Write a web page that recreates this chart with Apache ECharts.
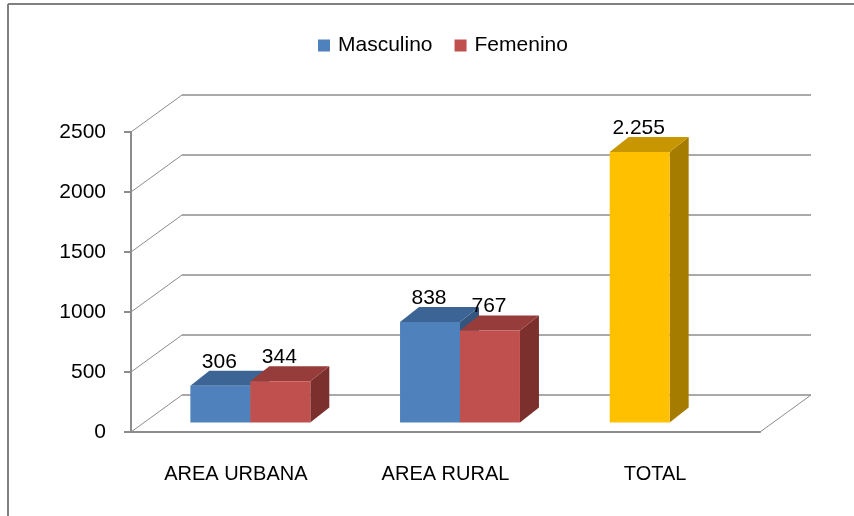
<!DOCTYPE html>
<html>
<head>
<meta charset="utf-8">
<script src="https://cdn.jsdelivr.net/npm/echarts@6/dist/echarts.min.js"></script>
<style>
  html, body { margin: 0; padding: 0; background: #fff; }
  #chart { width: 854px; height: 516px; }
</style>
</head>
<body>
<div id="chart"></div>
<script>
// datos del grafico
const categories = ['AREA URBANA', 'AREA RURAL', 'TOTAL'];
const masculino = [306, 838, 2255];
const femenino = [344, 767, null];
const yTicks = [0, 500, 1000, 1500, 2000, 2500];

const FONT = '"Liberation Sans", Arial, sans-serif';
const wallDepth = { x: 51, y: -37 };  // profundidad de pared/piso
const frontOff = { x: 14.5, y: -9.5 }; // plano frontal de las barras
const barDepth = { x: 19, y: -15 };
const barRatio = 0.286;
const lineColor = '#8c8c8c';

const blue = { front: '#4F81BD', top: '#3C6595', side: '#33557E' };
const red = { front: '#C0504D', top: '#963C3A', side: '#7B302E' };
const yellow = { front: '#FFC000', top: '#C89600', side: '#A67C00' };

const fmt = (v) => String(v).replace(/\B(?=(\d{3})+(?!\d))/g, '.');

// barra 3d: cara frontal, superior y lateral
const barRender = (slot, colorOf) => (params, api) => {
  const idx = api.value(0);
  const val = api.value(1);
  const band = api.size([1, 0])[0];
  const w = band * barRatio;
  const base = api.coord([idx, 0]);
  const top = api.coord([idx, val]);
  const x0 = base[0] + frontOff.x + (slot === 0 ? -w : 0);
  const x1 = x0 + w;
  const yb = base[1] + frontOff.y;
  const yt = top[1] + frontOff.y;
  const c = colorOf(idx);
  const bx = barDepth.x, by = barDepth.y;
  return {
    type: 'group',
    children: [
      {
        type: 'polygon',
        shape: { points: [[x1, yt], [x1 + bx, yt + by], [x1 + bx, yb + by], [x1, yb]] },
        style: { fill: c.side }
      },
      {
        type: 'polygon',
        shape: { points: [[x0, yt], [x1, yt], [x1 + bx, yt + by], [x0 + bx, yt + by]] },
        style: { fill: c.top }
      },
      {
        type: 'rect',
        shape: { x: x0, y: yt, width: w, height: yb - yt },
        style: { fill: c.front }
      },
      {
        type: 'text',
        z2: 10,
        style: {
          text: fmt(val),
          x: (x0 + x1) / 2 - 1,
          y: yt + by - 9,
          align: 'center',
          verticalAlign: 'middle',
          fill: '#000',
          font: '21px ' + FONT
        }
      }
    ]
  };
};

// pared del fondo y piso
const wallRender = (params, api) => {
  const cs = params.coordSys;
  const y = api.coord([0, api.value(1)])[1];
  const xl = cs.x, xr = cs.x + cs.width;
  const dx = wallDepth.x, dy = wallDepth.y;
  const children = [
    { type: 'line', shape: { x1: xl, y1: y, x2: xl + dx, y2: y + dy }, style: { stroke: lineColor, lineWidth: 1 } },
    { type: 'line', shape: { x1: xl + dx, y1: y + dy, x2: xr + dx, y2: y + dy }, style: { stroke: lineColor, lineWidth: 1.6 } }
  ];
  if (api.value(1) === 0) {
    children.push({ type: 'line', shape: { x1: xr, y1: y, x2: xr + dx, y2: y + dy }, style: { stroke: lineColor, lineWidth: 1 } });
  }
  return { type: 'group', children };
};

const chart = echarts.init(document.getElementById('chart'));

chart.setOption({
  animation: false,
  backgroundColor: '#fff',
  legend: {
    data: ['Masculino', 'Femenino'],
    left: 313,
    top: 30,
    icon: 'rect',
    itemWidth: 12,
    itemHeight: 12,
    itemGap: 22,
    textStyle: { fontSize: 21, fontFamily: FONT, color: '#000', padding: [0, 0, 0, 3] }
  },
  grid: { left: 131, right: 94, top: 132, bottom: 84, outerBoundsMode: 'none' },
  xAxis: {
    type: 'category',
    data: categories,
    axisLine: { lineStyle: { color: lineColor, width: 2 } },
    axisTick: { length: 8, lineStyle: { color: lineColor, width: 2 } },
    axisLabel: { fontSize: 20, fontFamily: FONT, color: '#000', margin: 32 }
  },
  yAxis: {
    type: 'value',
    min: 0,
    max: 2500,
    interval: 500,
    axisLine: { show: true, lineStyle: { color: lineColor, width: 2 } },
    axisTick: { show: true, length: 7, lineStyle: { color: lineColor, width: 2 } },
    splitLine: { show: false },
    axisLabel: { fontSize: 21, fontFamily: FONT, color: '#000', margin: 25, formatter: (v) => String(v) }
  },
  graphic: [
    { type: 'line', shape: { x1: 8, y1: 4, x2: 854, y2: 4 }, style: { stroke: '#808080', lineWidth: 2 } },
    { type: 'line', shape: { x1: 8, y1: 4, x2: 8, y2: 516 }, style: { stroke: '#808080', lineWidth: 2 } }
  ],
  series: [
    {
      type: 'custom',
      name: 'pared',
      z: 1,
      silent: true,
      renderItem: wallRender,
      data: yTicks.map((v) => [0, v])
    },
    {
      type: 'custom',
      name: 'Masculino',
      z: 3,
      itemStyle: { color: blue.front },
      renderItem: barRender(0, (i) => (i === 2 ? yellow : blue)),
      data: masculino.map((v, i) => [i, v]).filter((d) => d[1] != null)
    },
    {
      type: 'custom',
      name: 'Femenino',
      z: 4,
      itemStyle: { color: red.front },
      renderItem: barRender(1, () => red),
      data: femenino.map((v, i) => [i, v]).filter((d) => d[1] != null)
    }
  ]
});
</script>
</body>
</html>
